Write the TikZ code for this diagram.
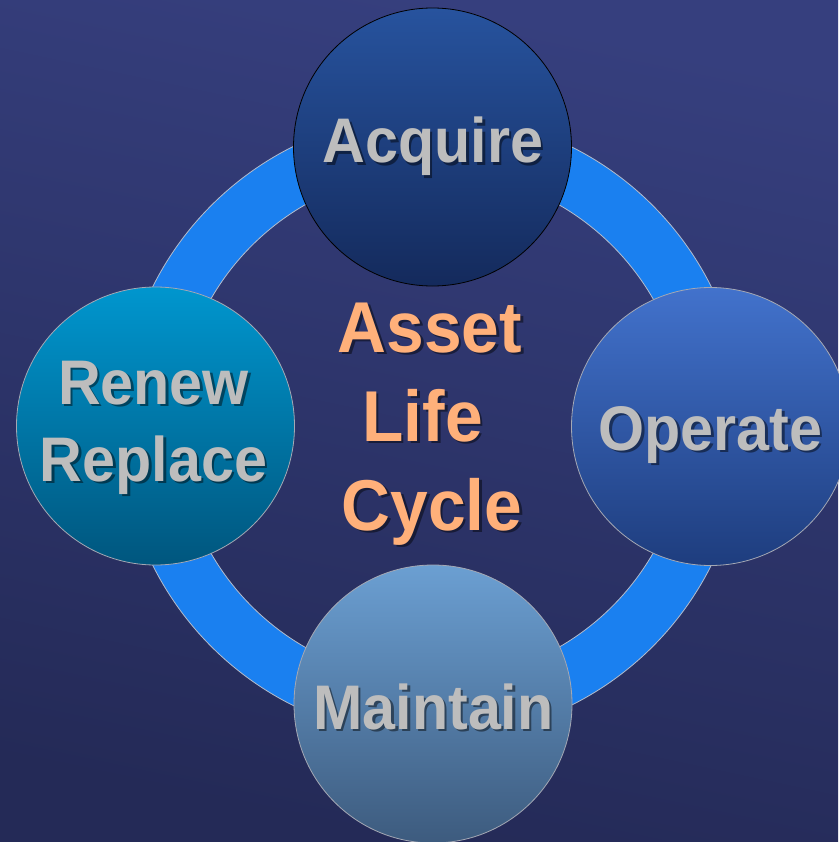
\documentclass[tikz,border=0pt]{standalone}
\usepackage{fontspec}
\newfontfamily\lblfont[FakeStretch=0.94]{Liberation Sans}
\definecolor{bgtop}{HTML}{363F7E}
\definecolor{bgbot}{HTML}{242A57}
\definecolor{ringblue}{HTML}{1A80F0}
\definecolor{ringedge}{HTML}{B4BCCC}
\definecolor{edgegray}{HTML}{A4A8B4}
\definecolor{lblgray}{HTML}{BDBDBD}
\definecolor{ttlorange}{HTML}{FFB07A}
\definecolor{acqtop}{HTML}{27539E}
\definecolor{acqbot}{HTML}{142A5C}
\definecolor{optop}{HTML}{4272CC}
\definecolor{opbot}{HTML}{1E3D7E}
\definecolor{mnttop}{HTML}{6B9FD2}
\definecolor{mntbot}{HTML}{3D5B7E}
\definecolor{rentop}{HTML}{0096CE}
\definecolor{renbot}{HTML}{00567E}
\newcommand\shtxt[4][lbl]{%
  \node[#1,text=black,opacity=.45,xshift=2.5pt,yshift=-2.5pt] at (#3) {#4};
  \node[#1] (#2) at (#3) {#4};}
\begin{document}
\begin{tikzpicture}[x=1pt,y=-1pt,
  circ/.style={circle,minimum size=278pt,inner sep=0pt,line width=0.8pt,draw=edgegray},
  lbl/.style={anchor=base,inner sep=0pt,font=\lblfont\bfseries\fontsize{63}{63}\selectfont,text=lblgray},
  ttl/.style={lbl,font=\lblfont\bfseries\fontsize{72}{72}\selectfont,text=ttlorange}]
\useasboundingbox (0,0) rectangle (838,842);
\shade[top color=bgtop,bottom color=bgbot,shading angle=-12] (0,0) rectangle (838,842);
% ring
\coordinate (rc) at (432,426);
\fill[ringblue,even odd rule] (rc) circle[radius=312pt] (rc) circle[radius=255pt];
\draw[ringedge,line width=0.8pt] (rc) circle[radius=312pt] (rc) circle[radius=255pt];
% circles
\node[circ,draw=black,top color=acqtop,bottom color=acqbot] (acq) at (432.5,147) {};
\node[circ,top color=optop,bottom color=opbot] (op) at (710.5,426.5) {};
\node[circ,top color=mnttop,bottom color=mntbot] (mnt) at (433,704) {};
\node[circ,top color=rentop,bottom color=renbot] (ren) at (155.5,426) {};
% labels
\coordinate (pA) at (433,163);
\coordinate (pO) at (710.5,450);
\coordinate (pM) at (433.5,729);
\coordinate (pR1) at (153.5,404);
\coordinate (pR2) at (153.5,481);
\coordinate (pT1) at (430,352);
\coordinate (pT2) at (422.5,441);
\coordinate (pT3) at (432,530);
\shtxt{acqT}{pA}{Acquire}
\shtxt{opT}{pO}{Operate}
\shtxt{mntT}{pM}{Maintain}
\shtxt{renT1}{pR1}{Renew}
\shtxt{renT2}{pR2}{Replace}
\shtxt[ttl]{t1}{pT1}{Asset}
\shtxt[ttl]{t2}{pT2}{Life}
\shtxt[ttl]{t3}{pT3}{Cycle}
\end{tikzpicture}
\end{document}
